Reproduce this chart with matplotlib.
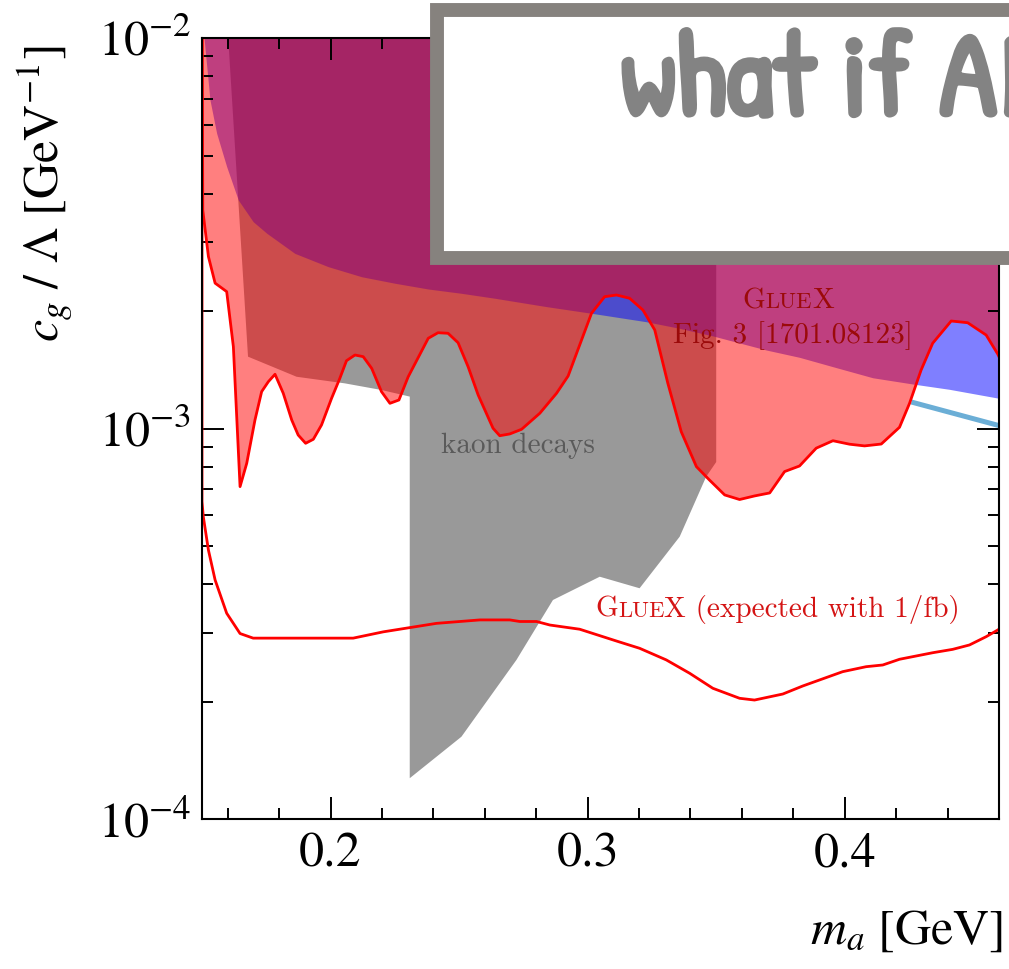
"""
GlueX / kaon-decay exclusion plot for c_g / Lambda vs m_a,
with the "what if AI" banner pasted over the top right.
"""

import matplotlib
import matplotlib.pyplot as plt
import matplotlib.patheffects as pe
from matplotlib.patches import Rectangle
from matplotlib.offsetbox import TextArea, HPacker, AnnotationBbox
from matplotlib.ticker import MultipleLocator, FormatStrFormatter, LogLocator

matplotlib.use("Agg")

plt.rcParams["font.family"] = "STIXGeneral"
plt.rcParams["mathtext.fontset"] = "stix"

# kaon decays (grey polygon, m_a in GeV, c_g/Lambda in 1/GeV)
kaon_m = [0.1600, 0.1679, 0.1868, 0.2056, 0.2198, 0.2308, 0.2308, 0.2509, 0.2723,
          0.2865, 0.3047, 0.3202, 0.3358, 0.3461, 0.3500, 0.3500]
kaon_c = [1.05e-2, 1.53e-3, 1.359e-3, 1.307e-3, 1.257e-3, 1.209e-3, 1.274e-4, 1.627e-4,
          2.559e-4, 3.644e-4, 4.18e-4, 3.905e-4, 5.293e-4, 7.54e-4, 8.22e-4, 1.05e-2]

# GlueX Fig. 3 [1701.08123] (blue, excluded above)
fig3_m = [0.1505, 0.1508, 0.1531, 0.1557, 0.1596, 0.1641, 0.1699, 0.1752, 0.1861,
          0.1991, 0.2121, 0.2250, 0.2380, 0.2509, 0.2639, 0.2840, 0.3015, 0.3228,
          0.3358, 0.3487, 0.3695, 0.3824, 0.3954, 0.4109, 0.4265, 0.4407, 0.4600]
fig3_c = [1.3e-2, 1.0e-2, 6.95e-3, 5.71e-3, 4.69e-3, 3.854e-3, 3.391e-3, 3.167e-3,
          2.813e-3, 2.601e-3, 2.451e-3, 2.359e-3, 2.28e-3, 2.223e-3, 2.159e-3,
          2.055e-3, 1.976e-3, 1.880e-3, 1.808e-3, 1.729e-3, 1.591e-3, 1.524e-3,
          1.442e-3, 1.351e-3, 1.302e-3, 1.262e-3, 1.197e-3]

# GlueX observed (red, excluded above)
gluex_m = [0.1500, 0.1503, 0.1525, 0.1551, 0.1596, 0.1622, 0.1648, 0.1674, 0.1706,
           0.1732, 0.1758, 0.1784, 0.1816, 0.1849, 0.1874, 0.1903, 0.1933, 0.1965,
           0.2004, 0.2036, 0.2062, 0.2095, 0.2127, 0.2160, 0.2198, 0.2231, 0.2266,
           0.2302, 0.2380, 0.2418, 0.2457, 0.2496, 0.2535, 0.2574, 0.2632, 0.2658,
           0.2697, 0.2743, 0.2814, 0.2879, 0.2924, 0.2969, 0.3015, 0.3066, 0.3112,
           0.3163, 0.3215, 0.3261, 0.3312, 0.3364, 0.3423, 0.3474, 0.3533, 0.3591,
           0.3649, 0.3708, 0.3766, 0.3824, 0.3889, 0.3954, 0.4019, 0.4077, 0.4142,
           0.4213, 0.4252, 0.4297, 0.4342, 0.4414, 0.4478, 0.4550, 0.4595, 0.4610]
gluex_c = [1.5e-2, 3.63e-3, 2.76e-3, 2.36e-3, 2.245e-3, 1.623e-3, 7.11e-4, 8.16e-4,
           1.053e-3, 1.245e-3, 1.32e-3, 1.379e-3, 1.233e-3, 1.053e-3, 9.64e-4, 9.18e-4,
           9.40e-4, 1.023e-3, 1.197e-3, 1.346e-3, 1.494e-3, 1.545e-3, 1.53e-3, 1.428e-3,
           1.245e-3, 1.162e-3, 1.185e-3, 1.359e-3, 1.705e-3, 1.762e-3, 1.756e-3, 1.661e-3,
           1.442e-3, 1.221e-3, 1.003e-3, 9.60e-4, 9.70e-4, 9.97e-4, 1.096e-3, 1.233e-3,
           1.365e-3, 1.639e-3, 1.976e-3, 2.179e-3, 2.201e-3, 2.159e-3, 2.014e-3, 1.791e-3,
           1.307e-3, 9.83e-4, 8.0e-4, 7.39e-4, 6.77e-4, 6.59e-4, 6.73e-4, 6.85e-4,
           7.77e-4, 8.03e-4, 8.92e-4, 9.32e-4, 9.13e-4, 9.04e-4, 9.14e-4, 1.009e-3,
           1.162e-3, 1.414e-3, 1.656e-3, 1.888e-3, 1.869e-3, 1.738e-3, 1.554e-3, 1.48e-3]

# GlueX expected with 1/fb (red line only)
exp_m = [0.1500, 0.1500, 0.1505, 0.1525, 0.1551, 0.1596, 0.1648, 0.1699, 0.2088,
         0.2205, 0.2412, 0.2503, 0.2581, 0.2697, 0.2736, 0.2801, 0.2853, 0.2969,
         0.3112, 0.3202, 0.3306, 0.3397, 0.3487, 0.3591, 0.3649, 0.3759, 0.3837,
         0.3992, 0.4083, 0.4148, 0.4213, 0.4342, 0.4420, 0.4485, 0.4550, 0.4595, 0.4610]
exp_c = [1.0e-2, 6.51e-4, 5.96e-4, 4.89e-4, 4.10e-4, 3.37e-4, 2.99e-4, 2.91e-4, 2.91e-4,
         3.02e-4, 3.175e-4, 3.21e-4, 3.24e-4, 3.24e-4, 3.21e-4, 3.21e-4, 3.144e-4,
         3.067e-4, 2.861e-4, 2.741e-4, 2.559e-4, 2.365e-4, 2.165e-4, 2.041e-4, 2.02e-4,
         2.093e-4, 2.195e-4, 2.388e-4, 2.459e-4, 2.484e-4, 2.569e-4, 2.67e-4, 2.724e-4,
         2.795e-4, 2.935e-4, 3.053e-4, 3.1e-4]

# light blue line on the right
blue_line_m = [0.4259, 0.4600]
blue_line_c = [1.171e-3, 1.019e-3]

X_TICKS = [0.2, 0.3, 0.4]

CM = "cmr10"
DARK_RED = "#9b0a0a"
TEXT_RED = "#d41414"
BANNER_GREY = "#838383"
TOP = 5e-2


def gluex_word(size, color, tail=""):
    # "GlueX" with the small-caps look of the LaTeX label
    props = dict(family=CM, size=size, color=color)
    small = dict(family=CM, size=size * 0.78, color=color)
    parts = [TextArea("G", textprops=props), TextArea("LUE", textprops=small),
             TextArea("X" + tail, textprops=props)]
    return HPacker(children=parts, align="baseline", pad=0, sep=0)


def main() -> None:
    fig = plt.figure(figsize=(10.09, 9.69), dpi=100)
    ax = fig.add_axes([0.2002, 0.1545, 0.7899, 0.8060])
    ax.set_yscale("log")
    ax.set_xlim(0.15, 0.46)
    ax.set_ylim(1e-4, 1e-2)

    ax.fill(kaon_m, kaon_c, color="#999999", lw=0, zorder=0.5)
    ax.fill_between(fig3_m, fig3_c, TOP, color="blue", alpha=0.5, lw=0, zorder=0.6)
    ax.fill_between(gluex_m, gluex_c, TOP, color="red", alpha=0.5, lw=0, zorder=0.7)
    ax.plot(blue_line_m, blue_line_c, color="#6baed6", lw=3.6, solid_capstyle="butt", zorder=1.8)
    ax.plot(gluex_m, gluex_c, color="red", lw=2.0, zorder=2)
    ax.plot(exp_m, exp_c, color="red", lw=2.0, zorder=2)

    ax.text(0.2995, 0.4686, "kaon decays", transform=ax.transAxes, family=CM,
            fontsize=21, color="#5a5a5a", ha="left", va="baseline")

    ab = AnnotationBbox(gluex_word(21, DARK_RED), (0.7356, 0.6466), xycoords="axes fraction",
                        box_alignment=(0.5, 0.0), frameon=False, pad=0)
    ax.add_artist(ab)
    ax.text(0.7411, 0.6095, "Fig. 3 [1701.08123]", transform=ax.transAxes, family=CM,
            fontsize=21, color=DARK_RED, ha="center", va="baseline")

    ab2 = AnnotationBbox(gluex_word(21, TEXT_RED, " (expected with 1/fb)"), (0.4931, 0.2501),
                         xycoords="axes fraction", box_alignment=(0.0, 0.0), frameon=False, pad=0)
    ax.add_artist(ab2)

    ax.set_xticks(X_TICKS)
    ax.xaxis.set_major_formatter(FormatStrFormatter("%.1f"))
    ax.xaxis.set_minor_locator(MultipleLocator(0.02))
    ax.yaxis.set_minor_locator(LogLocator(base=10, subs=range(2, 10)))
    ax.tick_params(which="both", direction="in", top=True, right=True, width=1.4,
                   labelsize=36)
    ax.tick_params(which="major", length=16)
    ax.tick_params(which="minor", length=8)
    ax.tick_params(axis="x", pad=9)
    ax.tick_params(axis="y", pad=8)
    for s in ax.spines.values():
        s.set_linewidth(1.5)

    fig.text(44 / 1009, 1 - 193.5 / 969, r"$c_g\ /\ \Lambda\ [\mathrm{GeV}^{-1}]$",
             rotation=90, ha="center", va="center", fontsize=36)
    fig.text(1003 / 1009, (969 - 943.3) / 969, r"$m_a\ [\mathrm{GeV}]$",
             ha="right", va="baseline", fontsize=36)

    # banner pasted on top, grey frame
    banner = Rectangle((437 / 1009, (969 - 258) / 969), 0.62, 248 / 969,
                       transform=fig.transFigure, lw=10, ec="#86827e", fc="white",
                       joinstyle="miter", zorder=10, clip_on=False)
    fig.patches.append(banner)
    fig.text(621 / 1009, (969 - 115) / 969, "what if AI", fontsize=86, color=BANNER_GREY,
             family=["Patrick Hand", "DejaVu Sans"], va="baseline", ha="left", zorder=11,
             path_effects=[pe.withStroke(linewidth=3.5, foreground=BANNER_GREY)])

    fig.savefig("out.png", dpi=100)
    plt.close(fig)


if __name__ == "__main__":
    main()
